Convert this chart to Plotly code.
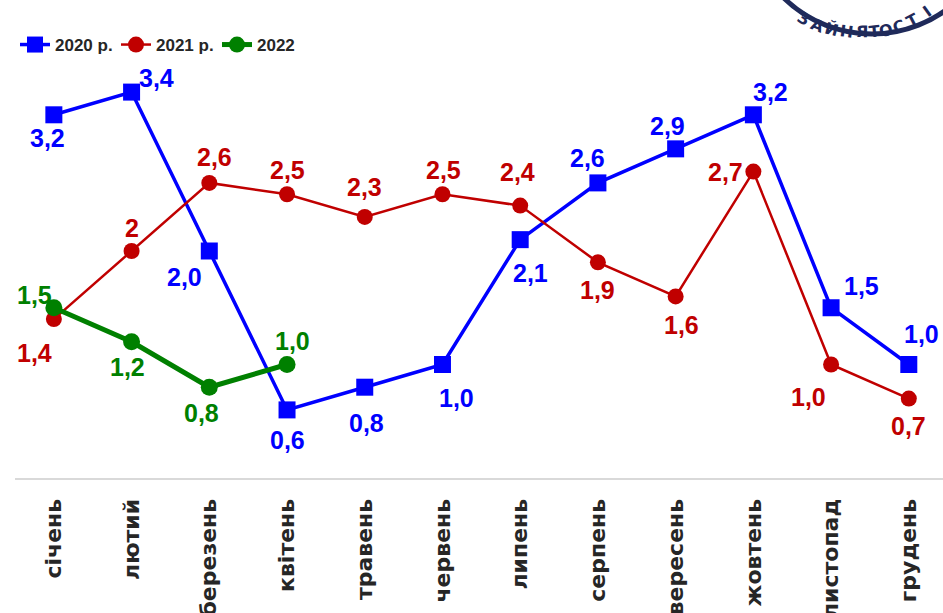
import math
import plotly.graph_objects as go

months = ["січень", "лютий", "березень", "квітень", "травень", "червень",
          "липень", "серпень", "вересень", "жовтень", "листопад", "грудень"]
v2020 = [3.2, 3.4, 2.0, 0.6, 0.8, 1.0, 2.1, 2.6, 2.9, 3.2, 1.5, 1.0]
v2021 = [1.4, 2.0, 2.6, 2.5, 2.3, 2.5, 2.4, 1.9, 1.6, 2.7, 1.0, 0.7]
v2022 = [1.5, 1.2, 0.8, 1.0]
lbl2021 = ["1,4", "2", "2,6", "2,5", "2,3", "2,5", "2,4", "1,9", "1,6", "2,7", "1,0", "0,7"]
logo_text = "ЗАЙНЯТОСТІ"

def fmt(v):
    return f"{v:.1f}".replace(".", ",")

C20, C21, C22 = "#0000FF", "#C00000", "#008000"
NAVY = "#1F2A5A"

fig = go.Figure()
fig.add_trace(go.Scatter(x=months, y=v2020, name="2020 р.", mode="lines+markers",
                         line=dict(color=C20, width=3.5),
                         marker=dict(symbol="square", size=17, color=C20)))
fig.add_trace(go.Scatter(x=months, y=v2021, name="2021 р.", mode="lines+markers",
                         line=dict(color=C21, width=2.5),
                         marker=dict(symbol="circle", size=16, color=C21)))
fig.add_trace(go.Scatter(x=months[:len(v2022)], y=v2022, name="2022", mode="lines+markers",
                         line=dict(color=C22, width=5),
                         marker=dict(symbol="circle", size=17, color=C22)))

off20 = [(-6, 23), (25, -14), (-25, 26), (0, 30), (2, 36), (14, 33), (10, 33),
         (-10, -25), (-8, -23), (17, -23), (30, -22), (13, -31)]
off21 = [(-19, 34), (0, -23), (5, -26), (0, -24), (0, -30), (1, -24), (-3, -34),
         (0, 28), (6, 29), (-28, 0), (-23, 32), (0, 27)]
off22 = [(-19, -13), (-4, 25), (-8, 26), (5, -24)]

lab_font = dict(family="Liberation Sans", size=25, weight="bold")
ann = []
def add_labels(vals, texts, offs, color):
    for m, v, t, (dx, dy) in zip(months, vals, texts, offs):
        ann.append(dict(x=m, y=v, text=t, showarrow=False, xshift=dx, yshift=-dy,
                        font=dict(color=color, **lab_font)))

add_labels(v2020, [fmt(v) for v in v2020], off20, C20)
add_labels(v2021, lbl2021, off21, C21)
add_labels(v2022, [fmt(v) for v in v2022], off22, C22)

# plot area geometry (pixels) for placing the decorative logo
PL, PW, PB, PH = 15, 928, 478, 454
def px(x):
    return (x - PL) / PW
def py(y):
    return (PB - y) / PH

# logo ring (partially visible at top right)
cx, cy, R = 872, -92, 126
shapes = [dict(type="circle", xref="paper", yref="paper",
               x0=px(cx - R), x1=px(cx + R), y0=py(cy + R), y1=py(cy - R),
               line=dict(color=NAVY, width=5), fillcolor="white", layer="above")]
rt = 112
for i, ch in enumerate(logo_text):
    lx = 816 + i * 13.5
    a = math.asin((lx - cx) / rt)
    ly = cy + rt * math.cos(a)
    ann.append(dict(xref="paper", yref="paper", x=px(lx), y=py(ly), text=ch,
                    showarrow=False, textangle=-math.degrees(a),
                    font=dict(family="DejaVu Sans", size=16, color=NAVY, weight="bold")))

fig.update_layout(
    width=943, height=613,
    margin=dict(l=PL, r=0, t=24, b=135, autoexpand=False),
    paper_bgcolor="white", plot_bgcolor="white",
    annotations=ann,
    shapes=shapes,
    showlegend=True,
    legend=dict(orientation="h", x=0.0, y=py(45), xanchor="left", yanchor="middle",
                font=dict(family="Liberation Sans", size=17, color="#262626", weight="bold"),
                itemwidth=30, entrywidth=56, bgcolor="rgba(0,0,0,0)"),
    xaxis=dict(range=[-0.5, 11.44], showgrid=False, showline=True, linecolor="#D9D9D9",
               linewidth=2, ticks="", tickangle=-90, automargin=False, ticklabelstandoff=10,
               tickfont=dict(family="DejaVu Sans", size=22, color="#262626", weight="bold")),
    yaxis=dict(range=[0, 4], showgrid=False, showticklabels=False, zeroline=False,
               showline=False, automargin=False),
)

fig.write_html("out.html", config={"displayModeBar": False},
               post_script="document.body.style.margin='0';document.documentElement.style.overflow='hidden';")
